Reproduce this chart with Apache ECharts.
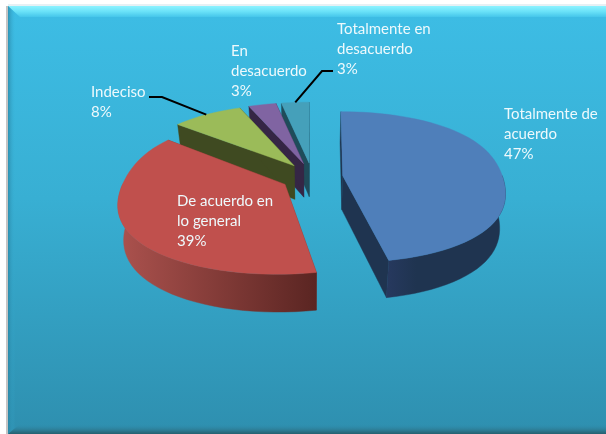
<!DOCTYPE html>
<html>
<head>
<meta charset="utf-8">
<style>
  html,body{margin:0;padding:0;background:#fff;}
  #main{width:606px;height:434px;}
</style>
<script src="https://cdn.jsdelivr.net/npm/echarts@6/dist/echarts.min.js"></script>
</head>
<body>
<div id="main"></div>
<script>
// datos
var categories = ['Totalmente de acuerdo', 'De acuerdo en lo general', 'Indeciso', 'En desacuerdo', 'Totalmente en desacuerdo'];
var values = [47, 39, 8, 3, 3];
var labelLines = ['Totalmente de\nacuerdo', 'De acuerdo en\nlo general', 'Indeciso', 'En\ndesacuerdo', 'Totalmente en\ndesacuerdo'];

// colores de cada rebanada
var topColors = ['#4F7FBA', '#C0504D', '#9BBB59', '#8064A2', '#45A0BA'];
var sideColors = ['#1F3450', '#7A3431', '#3F4A21', '#352645', '#1F4C5A'];
var rimFrom = ['#27395F', '#AC524E', '#4A5727', '#3D2C50', '#245766'];
var rimTo = ['#1F3450', '#5A2522', '#3F4A21', '#352645', '#1F4C5A'];

// posicion de las etiquetas
var labelPos = [[504, 104], [177, 191], [91, 82], [231, 41], [337, 19]];
var leaders = [null, null, [[162, 97], [149, 97]], null, [[322, 71], [333, 71]]];

// proyeccion del pastel
var cx = 312, cy = 177, rx = 160, ry = 74, depth = 34, explode = 0.193;
var perspY = 0.15, lowShrink = 0.97;

function project(u, v, z) {
  var sy = 1 / (1 - perspY * v);
  // en x la perspectiva es mas fuerte delante que detras
  var kx = 0.14 + 0.08 * Math.tanh(2 * v);
  var sx = 1 / (1 - kx * v);
  var shrink = 1 - (1 - lowShrink) * z; // la base queda mas lejos
  return [cx + rx * u * sx * shrink, cy + ry * v * sy * shrink + depth * z * sy];
}

var total = values.reduce(function (a, b) { return a + b; }, 0);
var starts = [];
values.reduce(function (acc, v, i) { starts[i] = acc; return acc + v; }, 0);

function renderSlice(params, api) {
  var i = api.value(0);
  var a0 = starts[i] / total * 360;
  var a1 = a0 + api.value(1) / total * 360;
  var mid = (a0 + a1) / 2 * Math.PI / 180;
  var ox = Math.sin(mid) * explode, oy = -Math.cos(mid) * explode;

  function rim(deg, z) {
    var r = deg * Math.PI / 180;
    return project(ox + Math.sin(r), oy - Math.cos(r), z);
  }
  function arc(from, to, z) {
    var pts = [], n = Math.max(4, Math.ceil((to - from) / 3));
    for (var k = 0; k <= n; k++) pts.push(rim(from + (to - from) * k / n, z));
    return pts;
  }
  var apex = project(ox, oy, 0), apexLow = project(ox, oy, 1);
  var children = [];

  function poly(points, fill) {
    children.push({ type: 'polygon', shape: { points: points }, style: { fill: fill, stroke: fill, lineWidth: 0.4 } });
  }
  // paredes radiales
  poly([apex, rim(a0, 0), rim(a0, 1), apexLow], sideColors[i]);
  poly([apex, rim(a1, 0), rim(a1, 1), apexLow], sideColors[i]);
  // pared exterior, solo la parte frontal
  var w0 = Math.max(a0, 90), w1 = Math.min(a1, 270);
  if (w1 > w0) {
    var stops = i === 0
      ? [{ offset: 0, color: rimFrom[i] }, { offset: 0.25, color: rimTo[i] }, { offset: 1, color: rimTo[i] }]
      : [{ offset: 0, color: rimFrom[i] }, { offset: 1, color: rimTo[i] }];
    poly(arc(w0, w1, 0).concat(arc(w0, w1, 1).reverse()),
      new echarts.graphic.LinearGradient(0, 0, 1, 0, stops));
  }
  // cara superior
  poly([apex].concat(arc(a0, a1, 0)), topColors[i]);

  // linea guia
  if (leaders[i]) {
    var midRim = rim((a0 + a1) / 2, 0);
    children.push({
      type: 'polyline',
      shape: { points: [midRim].concat(leaders[i]) },
      style: { stroke: '#000', lineWidth: 2, fill: null }
    });
  }
  // etiqueta
  children.push({
    type: 'text',
    z2: 10,
    style: {
      x: labelPos[i][0], y: labelPos[i][1],
      text: labelLines[i] + '\n' + api.value(1) + '%',
      fill: '#EEF9FC',
      font: '15px Lato',
      lineHeight: 20,
      textAlign: 'left', textVerticalAlign: 'top'
    }
  });
  return { type: 'group', children: children };
}

var chart = echarts.init(document.getElementById('main'), null, { renderer: 'canvas' });

// orden de pintado: de atras hacia adelante
var drawOrder = [4, 3, 2, 1, 0];

chart.setOption({
  animation: false,
  backgroundColor: '#ffffff',
  graphic: [
    { type: 'rect', z: -5, shape: { x: 6, y: 6, width: 2, height: 428 }, style: { fill: '#C4C4C4' } },
    { type: 'rect', z: -5, shape: { x: 8, y: 4, width: 598, height: 2 }, style: { fill: '#E6F0F4' } },
    { type: 'rect', z: -4, shape: { x: 8, y: 6, width: 598, height: 428 },
      style: { fill: new echarts.graphic.LinearGradient(0, 0, 0, 1, [
        { offset: 0, color: '#3DBDE5' },
        { offset: 0.45, color: '#38AFD3' },
        { offset: 1, color: '#2E8FAF' }
      ]) } },
    // bisel superior
    { type: 'polygon', z: -3, shape: { points: [[8, 6], [606, 6], [606, 17], [20, 17]] },
      style: { fill: new echarts.graphic.LinearGradient(0, 0, 0, 1, [
        { offset: 0, color: '#8CF2FF' },
        { offset: 0.5, color: '#6AE2F8' },
        { offset: 1, color: '#45C6EA' }
      ]) } },
    // bisel izquierdo
    { type: 'polygon', z: -3, shape: { points: [[8, 6], [20, 17], [20, 424], [8, 433]] },
      style: { fill: new echarts.graphic.LinearGradient(0, 0, 1, 0, [
        { offset: 0, color: 'rgba(40,130,160,0.7)' },
        { offset: 0.6, color: 'rgba(56,176,214,0)' }
      ]) } },
    // bisel inferior
    { type: 'polygon', z: -3, shape: { points: [[8, 434], [20, 424], [606, 424], [606, 434]] },
      style: { fill: new echarts.graphic.LinearGradient(0, 0, 0, 1, [
        { offset: 0, color: 'rgba(46,143,175,0)' },
        { offset: 0.6, color: 'rgba(45,125,150,1)' },
        { offset: 1, color: '#25606F' }
      ]) } }
  ],
  series: [{
    type: 'custom',
    coordinateSystem: 'none',
    renderItem: renderSlice,
    silent: true,
    clip: false,
    data: drawOrder.map(function (i) { return { name: categories[i], value: [i, values[i]] }; })
  }]
});
</script>
</body>
</html>
